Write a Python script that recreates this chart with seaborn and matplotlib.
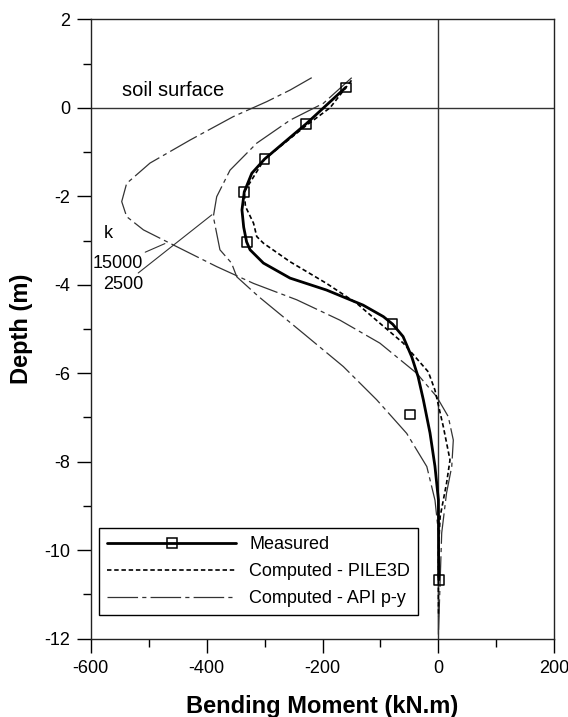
import matplotlib
matplotlib.use("Agg")
import matplotlib.pyplot as plt
import seaborn as sns
import pandas as pd
from matplotlib.lines import Line2D

# ---------------- data ----------------
meas_pts_x = [-160, -228, -300, -335, -330, -79, -49.5, 0.5]
meas_pts_y = [0.46, -0.36, -1.16, -1.90, -3.03, -4.89, -6.93, -10.67]

meas_line_x = [-160, -228, -300, -322, -335, -339, -336, -331, -325, -302, -256, -193,
               -130, -95, -79, -61, -46, -35, -26, -14.5, -6, 0, 0.5]
meas_line_y = [0.46, -0.36, -1.16, -1.48, -1.90, -2.31, -2.70, -3.03, -3.21, -3.51, -3.85, -4.12,
               -4.46, -4.72, -4.89, -5.17, -5.63, -6.08, -6.6, -7.35, -8.1, -8.86, -10.67]

pile3d_x = [-150, -187, -228, -300, -335, -333, -319, -313.5, -302, -256, -193, -141,
            -101, -60.6, -17.4, -6, 8.5, 20, 14, 3, 0, 0]
pile3d_y = [0.62, 0.0, -0.40, -1.16, -1.90, -2.23, -2.61, -2.91, -3.06, -3.48, -3.97, -4.42,
            -4.87, -5.32, -5.97, -6.38, -7.21, -7.96, -8.49, -9.24, -10.0, -11.5]

api15000_x = [-218.6, -256, -296, -354, -428.6, -497.7, -538, -546.5, -538, -509, -457.5,
              -382.6, -319, -244.5, -170, -101, -37.5, -3, 17, 25.7, 23, 14, 5.7, 0]
api15000_y = [0.68, 0.40, 0.14, -0.20, -0.73, -1.25, -1.71, -2.12, -2.46, -2.76, -3.10,
              -3.59, -3.97, -4.34, -4.80, -5.32, -6.0, -6.53, -6.98, -7.51, -8.11, -8.71, -9.61, -11.9]

api2500_x = [-149.6, -198.6, -256, -313.5, -359.6, -382.6, -388.4, -377, -357, -348, -310,
             -233, -164, -141, -106.5, -54.7, -20, -5.9, 0, 0]
api2500_y = [0.68, 0.10, -0.28, -0.80, -1.41, -2.01, -2.46, -3.21, -3.51, -3.82, -4.27,
             -5.10, -5.85, -6.15, -6.60, -7.36, -8.11, -8.87, -9.6, -11.9]

x_ticks = [-600, -400, -200, 0, 200]
y_ticks = [2, 0, -2, -4, -6, -8, -10, -12]
legend_labels = ["Measured", "Computed - PILE3D", "Computed - API p-y"]

# ---------------- style ----------------
sns.set_theme(style="ticks")
plt.rcParams["font.family"] = ["Liberation Sans", "DejaVu Sans"]
plt.rcParams["axes.unicode_minus"] = False
plt.rcParams["lines.scale_dashes"] = False
plt.rcParams["text.color"] = "black"
plt.rcParams["axes.labelcolor"] = "black"
plt.rcParams["xtick.color"] = "black"
plt.rcParams["ytick.color"] = "black"

fig = plt.figure(figsize=(5.68, 7.17), dpi=100)
ax = fig.add_axes([0.1597, 0.1092, 0.8162, 0.8639])

dash_pile = (0, (3.2, 2.0))
dashdot_api = (0, (22, 3, 3, 3))

df_m = pd.DataFrame({"x": meas_line_x, "y": meas_line_y})
df_p = pd.DataFrame({"x": pile3d_x, "y": pile3d_y})
df_a1 = pd.DataFrame({"x": api15000_x, "y": api15000_y})
df_a2 = pd.DataFrame({"x": api2500_x, "y": api2500_y})
df_pts = pd.DataFrame({"x": meas_pts_x, "y": meas_pts_y})

ax.axhline(0, color="#333333", lw=1.0, zorder=1)
ax.axvline(0, color="#333333", lw=1.0, zorder=1)

sns.lineplot(data=df_a1, x="x", y="y", sort=False, estimator=None, ax=ax,
             color="#333333", lw=0.9, linestyle=dashdot_api, zorder=2)
sns.lineplot(data=df_a2, x="x", y="y", sort=False, estimator=None, ax=ax,
             color="#333333", lw=0.9, linestyle=dashdot_api, zorder=2)
sns.lineplot(data=df_p, x="x", y="y", sort=False, estimator=None, ax=ax,
             color="black", lw=1.2, linestyle=dash_pile, zorder=3)
sns.lineplot(data=df_m, x="x", y="y", sort=False, estimator=None, ax=ax,
             color="black", lw=2.0, zorder=4)
sns.scatterplot(data=df_pts, x="x", y="y", ax=ax, marker="s", s=48,
                facecolor="none", edgecolor="black", linewidth=1.1, zorder=5)

ax.set_xlim(-600, 200)
ax.set_ylim(-12, 2)
ax.set_xticks(x_ticks)
ax.set_xticklabels([str(v) for v in x_ticks])
ax.set_yticks(y_ticks)
ax.set_yticklabels([str(v) for v in y_ticks])
ax.set_xticks([-500, -300, -100, 100], minor=True)
ax.set_yticks([1, -1, -3, -5, -7, -9, -11], minor=True)
ax.tick_params(axis="both", which="major", direction="out", length=10, width=1.0,
               labelsize=13, pad=5, colors="black")
ax.tick_params(axis="both", which="minor", direction="out", length=6, width=1.0)
ax.tick_params(top=False, right=False)
for sp in ax.spines.values():
    sp.set_visible(True)
    sp.set_linewidth(1.0)
    sp.set_color("#222222")

ax.set_xlabel("Bending Moment (kN.m)", fontsize=17, fontweight="bold", labelpad=13)
ax.set_ylabel("Depth (m)", fontsize=17, fontweight="bold", labelpad=8)

ax.text(-546, 0.27, "soil surface", fontsize=14.5, va="baseline", ha="left")
ax.text(-578, -2.85, "k", fontsize=13, va="center", ha="left")
ax.annotate("15000", xy=(-472, -3.07), xytext=(-509, -3.53), fontsize=13,
            ha="right", va="center",
            arrowprops=dict(arrowstyle="-", color="#333333", lw=0.8, shrinkA=0, shrinkB=0))
ax.annotate("2500", xy=(-391, -2.42), xytext=(-509, -4.0), fontsize=13,
            ha="right", va="center",
            arrowprops=dict(arrowstyle="-", color="#333333", lw=0.8, shrinkA=0, shrinkB=0))

handles = [
    Line2D([], [], color="black", lw=2.0, marker="s", markersize=7,
           markerfacecolor="none", markeredgecolor="black", markeredgewidth=1.1),
    Line2D([], [], color="black", lw=1.2, linestyle=dash_pile),
    Line2D([], [], color="#333333", lw=0.9, linestyle=dashdot_api),
]
leg = ax.legend(handles, legend_labels, loc="lower left", bbox_to_anchor=(0.0186, 0.038),
                borderaxespad=0, fontsize=13, handlelength=7.1, handletextpad=0.75,
                labelspacing=0.55, borderpad=0.45, numpoints=1, frameon=True,
                fancybox=False, edgecolor="black", framealpha=1)
leg.get_frame().set_linewidth(1.0)

fig.savefig("out.png", dpi=100)
